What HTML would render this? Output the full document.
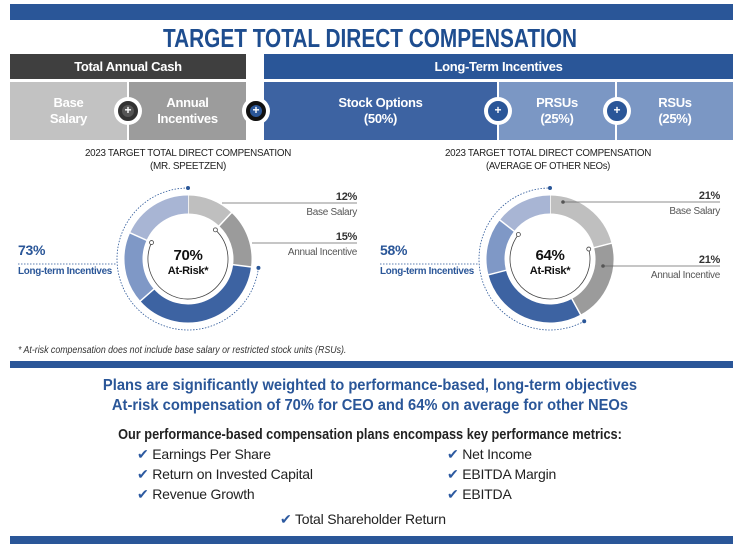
<!DOCTYPE html>
<html><head><meta charset="utf-8"><style>
body{margin:0;background:#fff;width:740px;height:545px;overflow:hidden;position:relative;font-family:"Liberation Sans",sans-serif}
.a{position:absolute}
.c{text-align:center}
.box{position:absolute;color:#fff;font-weight:bold;font-size:13px;letter-spacing:-0.3px;text-align:center;display:flex;align-items:center;justify-content:center;line-height:16px}
.plus{position:absolute;width:28px;height:28px;border-radius:50%;background:#fff;display:flex;align-items:center;justify-content:center}
.plus span{width:20px;height:20px;border-radius:50%;border:4px solid;box-sizing:border-box;color:#fff;font-size:12px;font-weight:bold;line-height:11px;text-align:center}
.m{position:absolute;font-size:14px;color:#222;letter-spacing:-0.2px}
.m b{color:#2d5aa0;font-weight:normal}
</style></head><body>
<div class="a" style="left:10px;top:4px;width:723px;height:16px;background:#2a5698"></div>
<div class="a c" style="left:0;top:23px;width:740px;font-size:26px;font-weight:bold;color:#1e4d8f;transform:scaleX(0.8)">TARGET TOTAL DIRECT COMPENSATION</div>
<div class="box" style="left:10px;top:54px;width:236px;height:25px;background:#3f3f3f">Total Annual Cash</div>
<div class="box" style="left:264px;top:54px;width:469px;height:25px;background:#2a5698">Long-Term Incentives</div>
<div class="box" style="left:10px;top:82px;width:117px;height:58px;background:#c2c2c2">Base<br>Salary</div>
<div class="box" style="left:129px;top:82px;width:117px;height:58px;background:#9c9c9c">Annual<br>Incentives</div>
<div class="box" style="left:264px;top:82px;width:233px;height:58px;background:#3d63a2">Stock Options<br>(50%)</div>
<div class="box" style="left:499px;top:82px;width:116px;height:58px;background:#7b97c4">PRSUs<br>(25%)</div>
<div class="box" style="left:617px;top:82px;width:116px;height:58px;background:#7b97c4">RSUs<br>(25%)</div>
<div class="plus" style="left:114px;top:97px"><span style="background:#555;border-color:#333">+</span></div>
<div class="plus" style="left:242px;top:97px"><span style="background:#2a5698;border-color:#111">+</span></div>
<div class="plus" style="left:484px;top:97px"><span style="background:#2a5698;border-color:#2a5698">+</span></div>
<div class="plus" style="left:603px;top:97px"><span style="background:#2a5698;border-color:#2a5698">+</span></div>

<svg class="a" style="left:0;top:140px" width="740" height="215" id="svg" font-family="Liberation Sans, sans-serif"></svg>
<div class="a" style="left:18px;top:345px;font-size:10px;font-style:italic;color:#333;transform:scaleX(0.88);transform-origin:left">* At-risk compensation does not include base salary or restricted stock units (RSUs).</div>
<div class="a" style="left:10px;top:361px;width:723px;height:7px;background:#2a5698"></div>
<div class="a c" style="left:0;top:376px;width:740px;font-size:16px;font-weight:bold;color:#2a5698;line-height:20px;transform:scaleX(0.92)">Plans are significantly weighted to performance-based, long-term objectives<br>At-risk compensation of 70% for CEO and 64% on average for other NEOs</div>
<div class="a c" style="left:0;top:426px;width:740px;font-size:15px;font-weight:bold;color:#222;transform:scaleX(0.85)">Our performance-based compensation plans encompass key performance metrics:</div>
<div class="m" style="left:137px;top:446px"><b>✔</b> Earnings Per Share</div>
<div class="m" style="left:137px;top:466px"><b>✔</b> Return on Invested Capital</div>
<div class="m" style="left:137px;top:486px"><b>✔</b> Revenue Growth</div>
<div class="m" style="left:447px;top:446px"><b>✔</b> Net Income</div>
<div class="m" style="left:447px;top:466px"><b>✔</b> EBITDA Margin</div>
<div class="m" style="left:447px;top:486px"><b>✔</b> EBITDA</div>
<div class="m" style="left:280px;top:511px"><b>✔</b> Total Shareholder Return</div>
<div class="a" style="left:10px;top:536px;width:723px;height:8px;background:#2a5698"></div>

<script>
const segments = ["Base Salary","Annual Incentive","Stock Options","PRSUs","RSUs"];
const ceoValues = [12,15,36.5,18.25,18.25];
const neoValues = [21,21,29,14.5,14.5];
const ltiTotals = [73,58];
const atRiskTotals = [70,64];
const colors = ["#bfbfbf","#9b9b9b","#3d63a2","#7f98c6","#a8b5d4"];
const NS="http://www.w3.org/2000/svg";
const svg=document.getElementById('svg');
function mk(t,a,p){const e=document.createElementNS(NS,t);for(const k in a)e.setAttribute(k,a[k]);(p||svg).appendChild(e);return e;}
function pt(cx,cy,r,pct){const a=pct/100*2*Math.PI;return [cx+r*Math.sin(a),cy-r*Math.cos(a)];}
function arcPath(cx,cy,r,p0,p1){const [x0,y0]=pt(cx,cy,r,p0),[x1,y1]=pt(cx,cy,r,p1);return `M${x0},${y0}A${r},${r} 0 ${p1-p0>50?1:0} 1 ${x1},${y1}`;}
function text(x,y,s,opt){const t=mk('text',Object.assign({x:x,y:y,'font-size':11,fill:'#333','letter-spacing':'-0.3'},opt));t.textContent=s;return t;}
function donut(cx,cy,vals,name,lti,atRisk,labelRight,rightLabels){
  const tot=vals.reduce((a,b)=>a+b,0);let c=0;
  vals.forEach((v,i)=>{const p0=c/tot*100,p1=(c+v)/tot*100;c+=v;
    const e=mk('path',{d:arcPath(cx,cy,54.5,p0,p1),stroke:colors[i],'stroke-width':18,fill:'none'});
    
    
    mk('path',{d:'M'+pt(cx,cy,45,p0).join(',')+'L'+pt(cx,cy,64,p0).join(','),stroke:'#fff','stroke-width':1.5});
  });
  const ltiStart=(vals[0]+vals[1])/tot*100;
  mk('path',{d:arcPath(cx,cy,71,ltiStart,100),stroke:'#2a5698','stroke-width':0.8,'stroke-dasharray':'1.5,1.5',fill:'none'});
  [ltiStart,100].forEach(p=>{const q=pt(cx,cy,71,p);mk('circle',{cx:q[0],cy:q[1],r:2,fill:'#2a5698'});});
  const arS=vals[0]/tot*100,arE=(vals[0]+vals[1]+vals[2]+vals[3])/tot*100;
  mk('path',{d:arcPath(cx,cy,40,arS,arE),stroke:'#444','stroke-width':0.8,fill:'none'});
  [arS,arE].forEach(p=>{const q=pt(cx,cy,40,p);mk('circle',{cx:q[0],cy:q[1],r:2,fill:'#fff',stroke:'#444','stroke-width':0.8});});
  text(cx,cy+1,atRisk+'%',{'font-size':15,'font-weight':'bold','text-anchor':'middle',fill:'#111'});
  text(cx,cy+15,'At-Risk*',{'font-size':11,'font-weight':'bold','text-anchor':'middle',fill:'#111'});
  const lx=cx-170;
  text(lx,cy-4,lti+'%',{'font-size':14,'font-weight':'bold',fill:'#2a5698'});
  mk('line',{x1:lx,y1:cy+5,x2:cx-72,y2:cy+5,stroke:'#2a5698','stroke-width':0.8,'stroke-dasharray':'1.5,1.5'});
  text(lx,cy+15,'Long-term Incentives',{'font-size':10.5,'font-weight':'bold',fill:'#2a5698',textLength:94,lengthAdjust:'spacingAndGlyphs'});
  rightLabels.forEach((rl,i)=>{
    const v=vals[i];
    mk('line',{x1:rl.x0,y1:rl.y,x2:labelRight,y2:rl.y,stroke:'#666','stroke-width':0.8});
    if(rl.dot)mk('circle',{cx:rl.x0,cy:rl.y,r:1.8,fill:'#555'});
    text(labelRight,rl.y-3,Math.round(v)+'%',{'font-size':11,'font-weight':'bold','text-anchor':'end',fill:'#333'});
    text(labelRight,rl.y+12,segments[i],{'font-size':10,'text-anchor':'end',fill:'#555'});
  });
}
text(188,16,'2023 TARGET TOTAL DIRECT COMPENSATION',{'font-size':10,'text-anchor':'middle',fill:'#222',textLength:206,lengthAdjust:'spacingAndGlyphs'});
text(188,29,'(MR. SPEETZEN)',{'font-size':10,'text-anchor':'middle',fill:'#222',textLength:76,lengthAdjust:'spacingAndGlyphs'});
text(548,16,'2023 TARGET TOTAL DIRECT COMPENSATION',{'font-size':10,'text-anchor':'middle',fill:'#222',textLength:206,lengthAdjust:'spacingAndGlyphs'});
text(548,29,'(AVERAGE OF OTHER NEOs)',{'font-size':10,'text-anchor':'middle',fill:'#222',textLength:124,lengthAdjust:'spacingAndGlyphs'});
donut(188,119,ceoValues,'ceo',ltiTotals[0],atRiskTotals[0],357,[{x0:222,y:63},{x0:252,y:103}]);
donut(550,119,neoValues,'neo',ltiTotals[1],atRiskTotals[1],720,[{x0:563,y:62,dot:true},{x0:603,y:126,dot:true}]);
</script>
</body></html>
